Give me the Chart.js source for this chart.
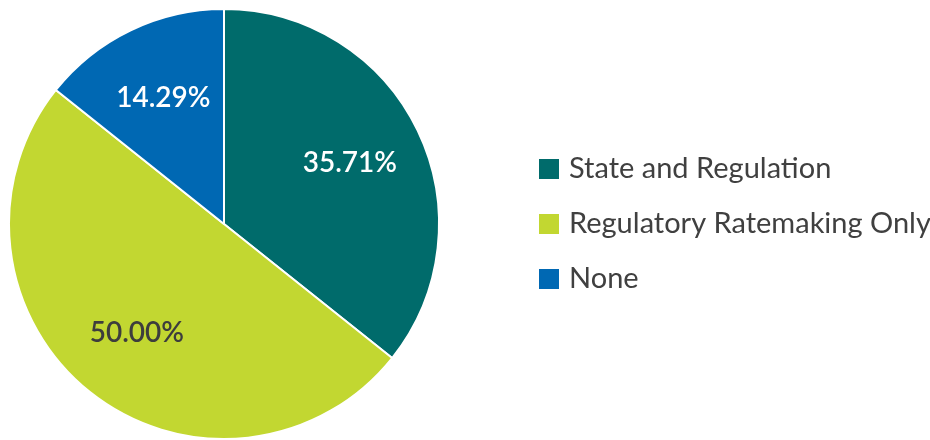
<!DOCTYPE html>
<html>
<head>
<meta charset="utf-8">
<script src="https://cdn.jsdelivr.net/npm/chart.js@4"></script>
<style>
    html, body { margin: 0; padding: 0; background: #fff; }
    #wrap { width: 930px; height: 440px; }
</style>
</head>
<body>
<div id="wrap"><canvas id="pieChart" width="930" height="440"></canvas></div>
<script>
const categories = ['State and Regulation', 'Regulatory Ratemaking Only', 'None'];
const shares = [35.71, 50.00, 14.29];
const sliceColors = ['#006b6b', '#c2d731', '#0068b3'];
const labelColors = ['#ffffff', '#3d3d3d', '#ffffff'];

// percentage text inside each slice
const sliceLabels = {
    id: 'sliceLabels',
    afterDatasetsDraw(chart) {
        const ctx = chart.ctx;
        const meta = chart.getDatasetMeta(0);
        ctx.save();
        ctx.font = '600 28px Lato';
        ctx.textAlign = 'center';
        ctx.textBaseline = 'middle';
        meta.data.forEach((arc, i) => {
            const mid = (arc.startAngle + arc.endAngle) / 2;
            const r = arc.outerRadius * 0.65;
            ctx.fillStyle = labelColors[i];
            ctx.fillText(shares[i].toFixed(2) + '%', arc.x + Math.cos(mid) * r, arc.y + Math.sin(mid) * r);
        });
        ctx.restore();
    }
};

// legend to the right of the pie
const sideLegend = {
    id: 'sideLegend',
    afterDraw(chart) {
        const ctx = chart.ctx;
        const area = chart.chartArea;
        const x = area.right + 99;
        const cy = (area.top + area.bottom) / 2;
        const step = 55;
        ctx.save();
        ctx.font = '29px Lato';
        ctx.textBaseline = 'middle';
        categories.forEach((name, i) => {
            const y = cy + (i - 1) * step;
            ctx.fillStyle = sliceColors[i];
            ctx.fillRect(x, y - 10, 20, 20);
            ctx.fillStyle = '#404040';
            ctx.fillText(name, x + 30, y);
        });
        ctx.restore();
    }
};

new Chart(document.getElementById('pieChart').getContext('2d'), {
    type: 'pie',
    data: {
        labels: categories,
        datasets: [{
            data: shares,
            backgroundColor: sliceColors,
            borderColor: '#ffffff',
            borderWidth: 2
        }]
    },
    options: {
        responsive: false,
        animation: false,
        layout: {
            padding: {top: 8, bottom: 0, left: 8, right: 490}
        },
        plugins: {
            legend: {display: false},
            tooltip: {enabled: false}
        }
    },
    plugins: [sliceLabels, sideLegend]
});
</script>
</body>
</html>
